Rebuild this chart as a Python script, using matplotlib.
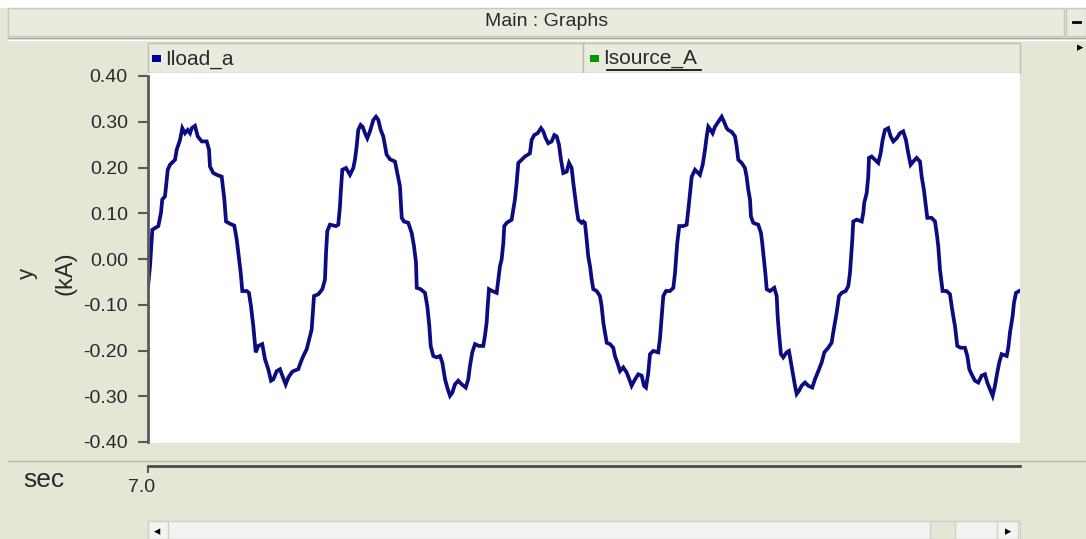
import matplotlib
matplotlib.use("Agg")
import matplotlib.pyplot as plt
import matplotlib.transforms as mtransforms
from matplotlib.patches import Rectangle

# time offset from 7.0 s, in ms, and Iload_a in kA
t_ms = [
    0.00, 0.19, 0.41, 0.98, 1.23, 1.35, 1.61, 1.87, 2.08, 2.56, 2.72, 3.03, 3.25, 3.50, 3.76, 3.98,
    4.14, 4.45, 4.71, 5.09, 5.56, 5.78, 5.87, 6.18, 6.51, 6.98, 7.23, 7.39, 7.77, 8.17, 8.40, 8.55,
    8.78, 8.93, 9.35, 9.56, 9.75, 9.97, 10.20, 10.45, 10.82, 11.08, 11.39, 11.65, 11.87, 12.19, 12.50,
    12.72, 13.04, 13.29, 13.61, 13.76, 14.23, 14.46, 14.71, 15.03, 15.27, 15.50, 15.65, 15.72, 16.13,
    16.51, 16.76, 16.86, 16.98, 17.23, 17.80, 18.02, 18.18, 18.25, 18.40, 18.75, 19.13, 19.44, 19.60,
    19.76, 19.91, 20.14, 20.33, 20.55, 20.77, 21.02, 21.34, 21.59, 21.81, 22.04, 22.28, 22.60, 22.92,
    23.39, 23.61, 23.86, 24.03, 24.24, 24.65, 24.97, 25.19, 25.38, 25.45, 25.82, 26.23, 26.45, 26.64,
    26.77, 27.02, 27.34, 27.65, 27.87, 28.13, 28.38, 28.60, 28.82, 29.07, 29.38, 29.71, 30.09, 30.33,
    30.49, 30.71, 30.97, 31.34, 31.75, 31.91, 32.07, 32.17, 32.29, 32.60, 33.02, 33.17, 33.33, 33.49,
    33.65, 33.74, 33.97, 34.44, 34.60, 34.75, 34.91, 35.07, 35.39, 35.70, 36.17, 36.33, 36.58, 36.90,
    37.22, 37.43, 37.66, 37.91, 38.23, 38.48, 38.70, 38.92, 39.11, 39.33, 39.65, 39.87, 40.12, 40.28,
    40.44, 40.60, 40.75, 41.07, 41.22, 41.38, 41.54, 41.69, 41.86, 42.02, 42.17, 42.49, 42.80, 42.96,
    43.12, 43.28, 43.44, 43.75, 44.06, 44.22, 44.44, 44.70, 45.01, 45.33, 45.58, 45.80, 46.12, 46.43,
    46.75, 46.97, 47.16, 47.38, 47.54, 47.85, 48.32, 48.48, 48.65, 48.80, 49.05, 49.43, 49.75, 49.91,
    50.12, 50.31, 50.69, 51.01, 51.17, 51.33, 51.49, 51.80, 52.27, 52.53, 52.75, 52.91, 53.06, 53.28,
    53.47, 53.69, 54.01, 54.33, 54.55, 54.80, 54.95, 55.27, 55.59, 55.75, 55.90, 56.22, 56.53, 56.69,
    56.85, 57.01, 57.10, 57.32, 57.79, 58.05, 58.17, 58.36, 58.49, 58.59, 58.90, 59.31, 59.54, 59.63,
    59.75, 59.94, 60.16, 60.48, 60.70, 60.89, 61.11, 61.27, 61.43, 61.65, 61.90, 62.22, 62.53, 62.91,
    63.16, 63.48, 63.80, 64.05, 64.42, 64.74, 64.89, 65.06, 65.22, 65.44, 65.69, 66.07, 66.32, 66.48,
    66.57, 66.70, 66.79, 67.11, 67.59, 67.74, 67.83, 68.06, 68.21, 68.28, 68.53, 68.84, 69.16, 69.38,
    69.57, 69.79, 70.10, 70.33, 70.58, 70.90, 71.21, 71.52, 71.78, 72.00, 72.22, 72.47, 72.79, 73.11,
    73.27, 73.48, 73.67, 73.80, 74.21, 74.53, 74.69, 74.84, 75.00, 75.25, 75.63, 75.95, 76.11, 76.26,
    76.42, 76.64, 76.96, 77.37, 77.59, 77.78, 78.00, 78.31, 78.63, 78.95, 79.26, 79.48, 79.73, 79.99,
    80.21, 80.43, 80.62, 80.84, 81.32, 81.47, 81.63, 81.88, 82.01, 82.20, 82.51,
]
iload_a = [
    -0.059, -0.016, 0.064, 0.072, 0.101, 0.130, 0.137, 0.195, 0.206, 0.217, 0.239, 0.260, 0.286, 0.275, 0.282, 0.275,
    0.286, 0.291, 0.268, 0.257, 0.257, 0.239, 0.202, 0.188, 0.184, 0.180, 0.130, 0.082, 0.077, 0.073, 0.043, 0.014,
    -0.030, -0.070, -0.070, -0.074, -0.103, -0.146, -0.204, -0.190, -0.186, -0.219, -0.241, -0.266, -0.263, -0.245, -0.241,
    -0.255, -0.274, -0.259, -0.248, -0.245, -0.241, -0.226, -0.212, -0.197, -0.175, -0.154, -0.103, -0.081, -0.077,
    -0.066, -0.045, 0.014, 0.061, 0.075, 0.072, 0.075, 0.115, 0.144, 0.195, 0.199, 0.184, 0.199, 0.217,
    0.246, 0.282, 0.293, 0.289, 0.275, 0.264, 0.279, 0.304, 0.311, 0.304, 0.282, 0.268, 0.228, 0.218,
    0.213, 0.188, 0.159, 0.090, 0.082, 0.079, 0.057, 0.028, -0.008, -0.063, -0.066, -0.074, -0.103, -0.146,
    -0.190, -0.212, -0.215, -0.212, -0.226, -0.263, -0.284, -0.299, -0.292, -0.274, -0.266, -0.274, -0.281, -0.263,
    -0.234, -0.204, -0.186, -0.190, -0.190, -0.168, -0.139, -0.103, -0.066, -0.070, -0.074, -0.045, -0.016, -0.001,
    0.035, 0.072, 0.079, 0.086, 0.108, 0.130, 0.166, 0.210, 0.217, 0.224, 0.231, 0.260, 0.271, 0.275,
    0.286, 0.279, 0.264, 0.253, 0.257, 0.271, 0.268, 0.250, 0.217, 0.188, 0.191, 0.210, 0.199, 0.166,
    0.137, 0.108, 0.086, 0.079, 0.082, 0.079, 0.043, 0.006, -0.016, -0.045, -0.066, -0.070, -0.081, -0.103,
    -0.139, -0.161, -0.183, -0.186, -0.194, -0.212, -0.226, -0.245, -0.237, -0.248, -0.263, -0.277, -0.263, -0.252,
    -0.255, -0.277, -0.281, -0.248, -0.208, -0.201, -0.204, -0.175, -0.125, -0.081, -0.070, -0.070, -0.063, -0.030,
    0.035, 0.072, 0.072, 0.075, 0.108, 0.144, 0.180, 0.195, 0.184, 0.206, 0.239, 0.268, 0.289, 0.282,
    0.275, 0.289, 0.300, 0.311, 0.300, 0.286, 0.282, 0.278, 0.268, 0.246, 0.217, 0.210, 0.199, 0.180,
    0.151, 0.130, 0.093, 0.079, 0.075, 0.057, 0.035, -0.008, -0.037, -0.066, -0.070, -0.063, -0.081, -0.125,
    -0.161, -0.208, -0.215, -0.204, -0.201, -0.226, -0.255, -0.277, -0.295, -0.288, -0.277, -0.270, -0.277, -0.281,
    -0.263, -0.245, -0.226, -0.204, -0.194, -0.183, -0.161, -0.139, -0.117, -0.081, -0.074, -0.070, -0.059, -0.030,
    -0.001, 0.043, 0.082, 0.086, 0.082, 0.101, 0.123, 0.144, 0.180, 0.221, 0.224, 0.217, 0.210, 0.231,
    0.260, 0.282, 0.286, 0.268, 0.257, 0.264, 0.275, 0.279, 0.260, 0.231, 0.206, 0.213, 0.221, 0.213,
    0.180, 0.151, 0.115, 0.090, 0.090, 0.082, 0.057, 0.028, -0.023, -0.070, -0.070, -0.077, -0.103, -0.125,
    -0.146, -0.190, -0.194, -0.194, -0.212, -0.241, -0.252, -0.266, -0.270, -0.255, -0.252, -0.270, -0.284, -0.299,
    -0.277, -0.248, -0.226, -0.208, -0.212, -0.194, -0.161, -0.125, -0.096, -0.074, -0.070,
]
t0 = 7.0
t_end_ms = 82.58
y_ticks = [-0.40, -0.30, -0.20, -0.10, 0.00, 0.10, 0.20, 0.30, 0.40]
series_names = ["Iload_a", "Isource_A"]
series_colors = ["#00009c", "#009a00"]

W, H = 1086, 539
BEIGE = "#e6e6d6"
BAR = "#ebeadf"
FONT = "Liberation Sans"
TXT = "#2a2a2a"

fig = plt.figure(figsize=(W / 100, H / 100), dpi=100, facecolor=BEIGE)

# window chrome, drawn in pixel coordinates
bg = fig.add_axes([0, 0, 1, 1])
bg.set_xlim(0, W)
bg.set_ylim(H, 0)
bg.axis("off")
bg.set_zorder(0)

bg.add_patch(Rectangle((0, 0), W, 8, facecolor="white", edgecolor="none"))
bg.add_patch(Rectangle((8, 8), 1056, 28, facecolor=BAR, edgecolor="#c9c9bb", lw=1))
bg.add_patch(Rectangle((1066, 8), 20, 28, facecolor=BAR, edgecolor="#c9c9bb", lw=1))
bg.plot([1073, 1080], [22, 22], color="black", lw=2)
bg.text(547, 22, "Main : Graphs", ha="center", va="center", fontsize=14, family=FONT, color=TXT)
bg.plot([8, W], [38, 38], color="#a8a8a0", lw=1)
bg.plot([8, W], [39.5, 39.5], color="white", lw=1)

# legend header bar
bg.add_patch(Rectangle((148, 43), 435, 30, facecolor=BAR, edgecolor="#bdbdb0", lw=1))
bg.add_patch(Rectangle((583, 43), 437, 30, facecolor=BAR, edgecolor="#bdbdb0", lw=1))
for x0, name, col in zip([152, 590], series_names, series_colors):
    bg.add_patch(Rectangle((x0, 55), 9, 7, facecolor=col, edgecolor="none"))
    bg.text(x0 + 13, 59, name, ha="left", va="center", fontsize=15, family=FONT, color=TXT)
bg.plot([607, 701], [70, 70], color="black", lw=1.2)
bg.text(1080, 48, "\u25b8", ha="center", va="center", fontsize=9, color="black")

bg.add_patch(Rectangle((148, 73), 872, 370, facecolor="white", edgecolor="none"))
bg.plot([8, W], [461, 461], color="#b4b4ac", lw=1)

# axis labels
bg.text(27, 273, "y", rotation=90, ha="center", va="center", fontsize=16, family=FONT, color=TXT)
bg.text(66, 273, "(kA)", rotation=90, ha="center", va="center", fontsize=17, family=FONT, color=TXT)
bg.text(44, 480, "sec", ha="center", va="center", fontsize=19, family=FONT, color=TXT)

# scrollbar
bg.add_patch(Rectangle((148, 521), 872, 18, facecolor="#f2f2f0", edgecolor="#d0d0c8", lw=1))
bg.add_patch(Rectangle((148, 521), 20, 18, facecolor="#f4f4f2", edgecolor="#d0d0c8", lw=1))
bg.add_patch(Rectangle((930, 521), 25, 18, facecolor=BEIGE, edgecolor="#d0d0c8", lw=1))
bg.add_patch(Rectangle((997, 521), 21, 18, facecolor="#f4f4f2", edgecolor="#d0d0c8", lw=1))
bg.text(157, 532, "\u25c2", ha="center", va="center", fontsize=9)
bg.text(1008, 532, "\u25b8", ha="center", va="center", fontsize=9)

# the graph itself
ax = fig.add_axes([148 / W, (H - 442) / H, 872 / W, (442 - 76) / H])
ax.set_zorder(1)
ax.patch.set_alpha(0)
t = [t0 + v / 1000 for v in t_ms]
ax.plot(t, iload_a, color="#0c0c82", lw=2.7, solid_joinstyle="miter")
ax.set_xlim(t0, t0 + t_end_ms / 1000)
ax.set_ylim(-0.4, 0.4)

for side in ["top", "right"]:
    ax.spines[side].set_visible(False)
ax.spines["left"].set_color("#5a5a5a")
ax.spines["left"].set_linewidth(2)
ax.spines["bottom"].set_position(("outward", 17.3))
ax.spines["bottom"].set_color("#4a4a4a")
ax.spines["bottom"].set_linewidth(2)

ax.set_yticks(y_ticks)
ax.set_yticklabels(["%.2f" % v for v in y_ticks])
ax.set_xticks([t0])
ax.set_xticklabels(["7.0"])
ax.tick_params(axis="y", direction="out", length=7, width=1.5, color="#5a5a5a", pad=7.5,
               labelsize=14, labelcolor=TXT)
ax.tick_params(axis="x", direction="out", length=5, width=1.5, color="#5a5a5a", pad=4,
               labelsize=14, labelcolor=TXT)
for lab in ax.get_yticklabels() + ax.get_xticklabels():
    lab.set_family(FONT)
shift = mtransforms.ScaledTranslation(-6 / 100, 0, fig.dpi_scale_trans)
for lab in ax.get_xticklabels():
    lab.set_transform(lab.get_transform() + shift)

fig.savefig("out.png", dpi=100, facecolor=BEIGE)
